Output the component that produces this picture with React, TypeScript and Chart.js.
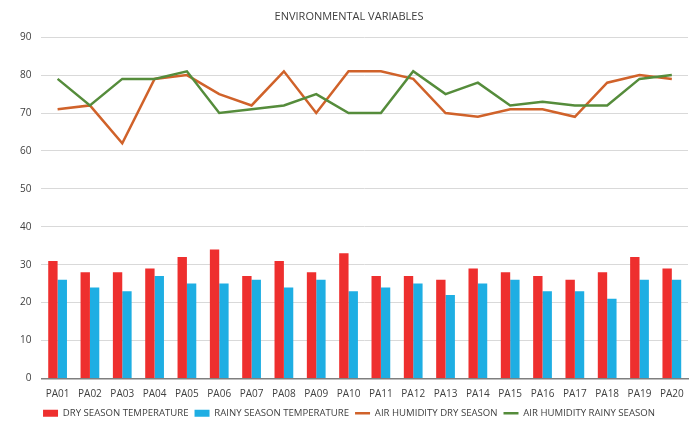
import React, { useEffect, useRef } from "react";
import { Chart, registerables } from "chart.js";

Chart.register(...registerables);

const categories = ["PA01","PA02","PA03","PA04","PA05","PA06","PA07","PA08","PA09","PA10","PA11","PA12","PA13","PA14","PA15","PA16","PA17","PA18","PA19","PA20"];
const dryTemp = [31,28,28,29,32,34,27,31,28,33,27,27,26,29,28,27,26,28,32,29];
const rainyTemp = [26,24,23,27,25,25,26,24,26,23,24,25,22,25,26,23,23,21,26,26];
const humidityDry = [71,72,62,79,80,75,72,81,70,81,81,79,70,69,71,71,69,78,80,79];
const humidityRainy = [79,72,79,79,81,70,71,72,75,70,70,81,75,78,72,73,72,72,79,80];

const FONT = "'Open Sans', 'Liberation Sans', sans-serif";
const LEGEND_ORDER = ["DRY SEASON TEMPERATURE","RAINY SEASON TEMPERATURE","AIR HUMIDITY DRY SEASON","AIR HUMIDITY RAINY SEASON"];

export default function App() {
  const ref = useRef<HTMLCanvasElement | null>(null);
  useEffect(() => {
    if (!ref.current) return;
    const chart = new Chart(ref.current, {
      type: "bar",
      data: {
        labels: categories,
        datasets: [
          { type: "line", label: "AIR HUMIDITY DRY SEASON", data: humidityDry, borderColor: "#d0622a", backgroundColor: "#d0622a", borderWidth: 2.5, pointRadius: 0, pointStyle: "line", order: 1 } as any,
          { type: "line", label: "AIR HUMIDITY RAINY SEASON", data: humidityRainy, borderColor: "#558c3b", backgroundColor: "#558c3b", borderWidth: 2.5, pointRadius: 0, pointStyle: "line", order: 0 } as any,
          { type: "bar", label: "DRY SEASON TEMPERATURE", data: dryTemp, backgroundColor: "#ee2f2e", pointStyle: "rect", categoryPercentage: 0.58, barPercentage: 1, order: 2 } as any,
          { type: "bar", label: "RAINY SEASON TEMPERATURE", data: rainyTemp, backgroundColor: "#1eaee3", pointStyle: "rect", categoryPercentage: 0.58, barPercentage: 1, order: 3 } as any,
        ],
      },
      options: {
        animation: false,
        responsive: false,
        layout: { padding: { left: 10, right: 9, top: 10, bottom: -7 } },
        plugins: {
          title: { display: true, text: "ENVIRONMENTAL VARIABLES", color: "#404040", font: { family: FONT, size: 11, weight: "normal" }, padding: { top: 0, bottom: 14 } },
          tooltip: { enabled: false },
          legend: {
            position: "bottom",
            labels: {
              usePointStyle: true,
              pointStyleWidth: 15,
              boxHeight: 7,
              color: "#404040",
              font: { family: FONT, size: 9.6 },
              padding: 6,
              sort: (a: any, b: any) => LEGEND_ORDER.indexOf(a.text) - LEGEND_ORDER.indexOf(b.text),
            },
          },
        },
        scales: {
          x: {
            grid: { display: false },
            border: { color: "#7f7f7f", width: 1.5 },
            ticks: { color: "#404040", font: { family: FONT, size: 10 }, maxRotation: 0, autoSkip: false, padding: 2 },
          },
          y: {
            min: 0, max: 90,
            ticks: { stepSize: 10, color: "#404040", font: { family: FONT, size: 10 }, padding: 10 },
            grid: { color: "#d9d9d9", drawTicks: false },
            border: { display: false },
          },
        },
      } as any,
    });
    return () => chart.destroy();
  }, []);
  return (
    <div style={{ position: "fixed", left: 0, top: 0, width: 697, height: 421, background: "#fff" }}>
      <canvas ref={ref} width={697} height={421} style={{ width: 697, height: 421 }} />
    </div>
  );
}
